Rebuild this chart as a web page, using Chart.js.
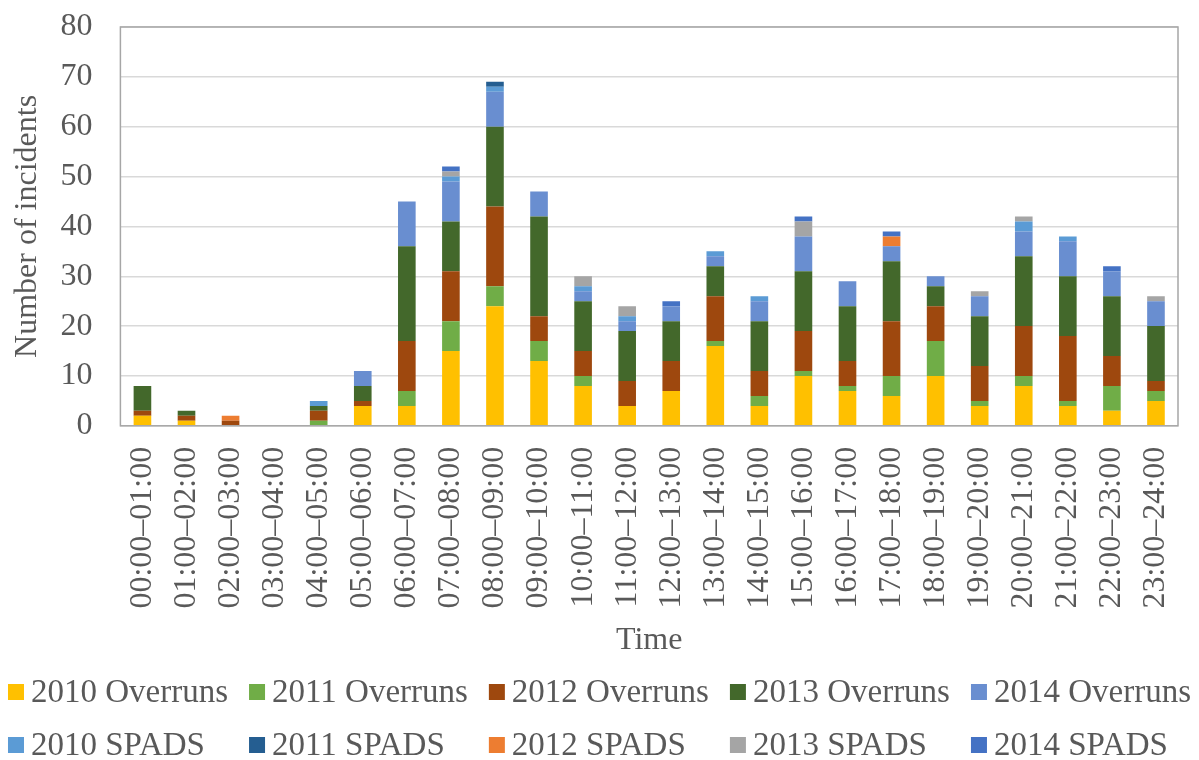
<!DOCTYPE html>
<html>
<head>
<meta charset="utf-8">
<script src="https://cdn.jsdelivr.net/npm/chart.js@4.4.1/dist/chart.umd.min.js"></script>
<style>
  html, body { margin: 0; padding: 0; background: #ffffff; }
  #wrap { width: 1199px; height: 760px; }
</style>
</head>
<body>
<div id="wrap"><canvas id="incidentChart"></canvas></div>
<script>
/* --------------- Categories --------------------- */
const hours = [
  "00:00–01:00", "01:00–02:00", "02:00–03:00", "03:00–04:00", "04:00–05:00", "05:00–06:00",
  "06:00–07:00", "07:00–08:00", "08:00–09:00", "09:00–10:00", "10:00–11:00", "11:00–12:00",
  "12:00–13:00", "13:00–14:00", "14:00–15:00", "15:00–16:00", "16:00–17:00", "17:00–18:00",
  "18:00–19:00", "19:00–20:00", "20:00–21:00", "21:00–22:00", "22:00–23:00", "23:00–24:00",
];

/* --------------- Series values -------------------------------------------- */
const overruns2010 = [2, 1, 0, 0, 0, 4, 4, 15, 24, 13, 8, 4, 7, 16, 4, 10, 7, 6, 10, 4, 8, 4, 3, 5];
const overruns2011 = [0, 0, 0, 0, 1, 0, 3, 6, 4, 4, 2, 0, 0, 1, 2, 1, 1, 4, 7, 1, 2, 1, 5, 2];
const overruns2012 = [1, 1, 1, 0, 2, 1, 10, 10, 16, 5, 5, 5, 6, 9, 5, 8, 5, 11, 7, 7, 10, 13, 6, 2];
const overruns2013 = [5, 1, 0, 0, 1, 3, 19, 10, 16, 20, 10, 10, 8, 6, 10, 12, 11, 12, 4, 10, 14, 12, 12, 11];
const overruns2014 = [0, 0, 0, 0, 0, 3, 9, 8, 7, 5, 2, 2, 3, 2, 4, 7, 5, 3, 2, 4, 5, 7, 5, 5];
const spads2010 = [0, 0, 0, 0, 1, 0, 0, 1, 1, 0, 1, 1, 0, 1, 1, 0, 0, 0, 0, 0, 2, 1, 0, 0];
const spads2011 = [0, 0, 0, 0, 0, 0, 0, 0, 1, 0, 0, 0, 0, 0, 0, 0, 0, 0, 0, 0, 0, 0, 0, 0];
const spads2012 = [0, 0, 1, 0, 0, 0, 0, 0, 0, 0, 0, 0, 0, 0, 0, 0, 0, 2, 0, 0, 0, 0, 0, 0];
const spads2013 = [0, 0, 0, 0, 0, 0, 0, 1, 0, 0, 2, 2, 0, 0, 0, 3, 0, 0, 0, 1, 1, 0, 0, 1];
const spads2014 = [0, 0, 0, 0, 0, 0, 0, 1, 0, 0, 0, 0, 1, 0, 0, 1, 0, 1, 0, 0, 0, 0, 1, 0];

/* --------------- Axis ticks --------------------- */
const yMin = 0;
const yMax = 80;
const yStep = 10;

/* --------------- Series names and colours --------------------- */
const seriesNames = [
  "2010 Overruns", "2011 Overruns", "2012 Overruns", "2013 Overruns", "2014 Overruns",
  "2010 SPADS", "2011 SPADS", "2012 SPADS", "2013 SPADS", "2014 SPADS",
];
const seriesValues = [
  overruns2010, overruns2011, overruns2012, overruns2013, overruns2014,
  spads2010, spads2011, spads2012, spads2013, spads2014,
];
const seriesColors = [
  "#FFC000", // gold
  "#70AD47", // green
  "#9E480E", // brown
  "#43682B", // dark green
  "#698ED0", // soft blue
  "#5B9BD5", // sky blue
  "#255E91", // navy
  "#ED7D31", // orange
  "#A5A5A5", // grey
  "#4472C4", // blue
];

const FONT = "'Liberation Serif', 'Times New Roman', serif";
Chart.defaults.font.family = FONT;
Chart.defaults.color = "#595959";

/* --------------- Box round the plot area --------------------- */
const plotFrame = {
  id: "plotFrame",
  afterDraw(chart) {
    const { ctx, chartArea: a } = chart;
    ctx.save();
    ctx.strokeStyle = "#a6a6a6";
    ctx.lineWidth = 1.5;
    ctx.strokeRect(a.left, a.top, a.right - a.left, a.bottom - a.top);
    ctx.restore();
  },
};

/* --------------- Legend laid out in columns, like Excel does --------------------- */
const legendGrid = {
  id: "legendGrid",
  afterDraw(chart, args, opts) {
    const ctx = chart.ctx;
    const sets = chart.data.datasets;
    const cols = opts.columns;
    const rows = Math.ceil(sets.length / cols);
    ctx.save();
    ctx.font = opts.fontSize + "px " + FONT;
    ctx.textBaseline = "middle";
    const widths = [];
    for (let c = 0; c < cols; c++) {
      let w = 0;
      for (let r = 0; r < rows; r++) {
        const ds = sets[r * cols + c];
        if (ds) w = Math.max(w, ctx.measureText(ds.label).width);
      }
      widths.push(opts.box + opts.gap + w);
    }
    const total = widths.reduce((s, w) => s + w, 0) + opts.spacing * (cols - 1);
    for (let r = 0; r < rows; r++) {
      let x = (chart.width - total) / 2;
      const y = chart.height - opts.rowOffsets[r];
      for (let c = 0; c < cols; c++) {
        const ds = sets[r * cols + c];
        if (ds) {
          ctx.fillStyle = ds.backgroundColor;
          ctx.fillRect(x, y - opts.box / 2, opts.box, opts.box);
          ctx.fillStyle = opts.color;
          ctx.fillText(ds.label, x + opts.box + opts.gap, y + 1);
        }
        x += widths[c] + opts.spacing;
      }
    }
    ctx.restore();
  },
};

/* --------------- Chart --------------------- */
const datasets = seriesNames.map((name, i) => ({
  label: name,
  data: seriesValues[i],
  backgroundColor: seriesColors[i],
  borderWidth: 0,
  barPercentage: 0.4,
  categoryPercentage: 1.0,
}));

new Chart(document.getElementById("incidentChart"), {
  type: "bar",
  data: { labels: hours, datasets: datasets },
  plugins: [plotFrame, legendGrid],
  options: {
    responsive: true,
    maintainAspectRatio: false,
    animation: false,
    layout: { padding: { left: 0, right: 21, top: 27, bottom: 108 } },
    plugins: {
      legend: { display: false },
      tooltip: { enabled: false },
      legendGrid: {
        columns: 5,
        fontSize: 33,
        box: 16,
        gap: 7,
        spacing: 21,
        color: "#595959",
        rowOffsets: [68, 15],
      },
    },
    scales: {
      x: {
        stacked: true,
        grid: { display: false, drawTicks: false },
        border: { display: false },
        ticks: {
          font: { size: 32, lineHeight: 0.5 },
          minRotation: 90,
          maxRotation: 90,
          padding: 21,
          autoSkip: false,
        },
        title: {
          display: true,
          text: "Time",
          font: { size: 32, lineHeight: 0.7 },
          padding: { top: 0, bottom: 0 },
        },
      },
      y: {
        stacked: true,
        min: yMin,
        max: yMax,
        grid: { color: "#d9d9d9", lineWidth: 1.5, drawTicks: true, tickLength: 24, tickColor: "transparent" },
        border: { display: false },
        ticks: {
          stepSize: yStep,
          font: { size: 32 },
          padding: 4,
        },
        title: {
          display: true,
          text: "Number of incidents",
          font: { size: 32 },
          padding: { top: 8, bottom: 10 },
        },
      },
    },
  },
});
</script>
</body>
</html>
